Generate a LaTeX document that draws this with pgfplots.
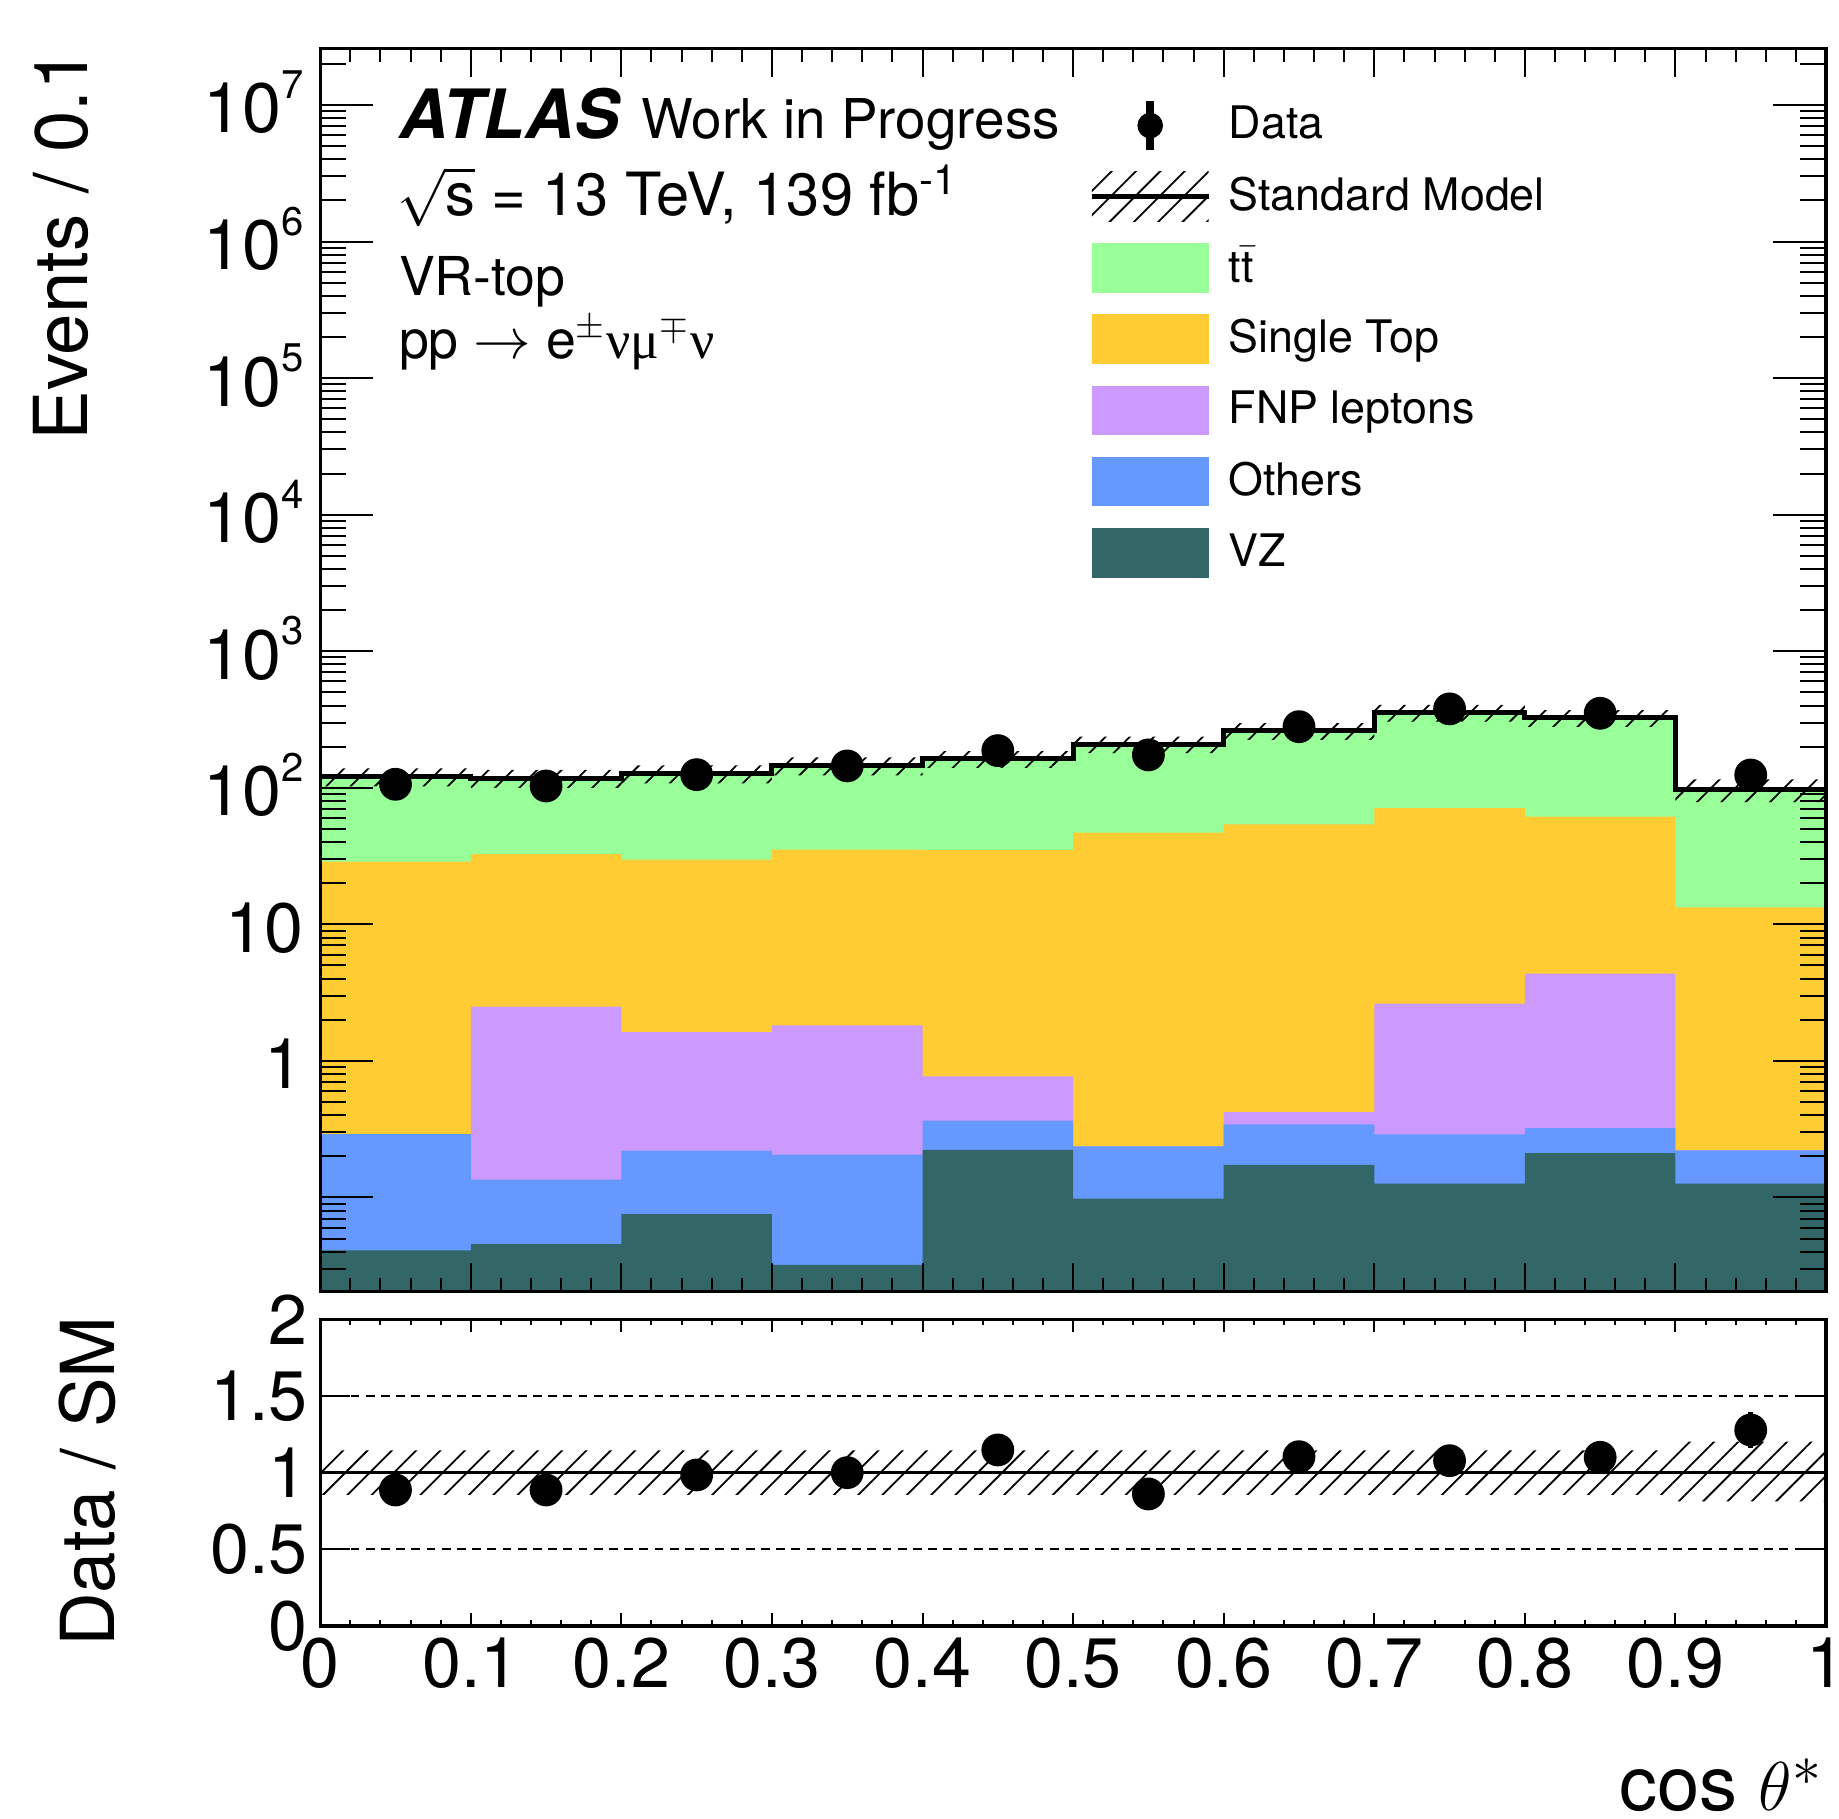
\documentclass[border=0pt]{standalone}
\usepackage{pgfplots}
\pgfplotsset{compat=1.18}
\usepackage{fontspec}
\setmainfont{TeX Gyre Heros}
\newfontfamily\symfont{Liberation Serif}
\usetikzlibrary{patterns.meta}
\definecolor{cTT}{RGB}{153,255,153}
\definecolor{cST}{RGB}{255,204,51}
\definecolor{cFNP}{RGB}{204,153,255}
\definecolor{cOth}{RGB}{102,153,255}
\definecolor{cVZ}{RGB}{51,102,102}
\newcommand{\fs}[1]{\fontsize{#1}{#1}\selectfont}
\newcommand{\pw}[1]{10\raisebox{0.49em}{\fs{10}#1}}
\tikzset{hatch/.style={pattern={Lines[angle=45,distance=4.3pt,line width=0.45pt]}, pattern color=black}}
\begin{document}
\begin{tikzpicture}
\path[use as bounding box] (0,0) rectangle (459.75pt,454.5pt);
% ---------------- main panel ----------------
\begin{axis}[name=main, at={(80.05pt,131.575pt)}, anchor=south west, scale only axis,
  width=376.45pt, height=310.85pt,
  xmin=0, xmax=1, ymin=0.0204, ymax=2.6e7, ymode=log,
  axis on top, axis line style={line width=0.85pt},
  xtick=\empty,
  ytick={0.1,1,10,100,1000,10000,100000,1000000,10000000},
  yticklabels={{},1,10,{\pw{2}},{\pw{3}},{\pw{4}},{\pw{5}},{\pw{6}},{\pw{7}}},
  minor ytick={0.03,0.04,0.05,0.06,0.07,0.08,0.09,0.2,0.3,0.4,0.5,0.6,0.7,0.8,0.9,2,3,4,5,6,7,8,9,20,30,40,50,60,70,80,90,200,300,400,500,600,700,800,900,2e3,3e3,4e3,5e3,6e3,7e3,8e3,9e3,2e4,3e4,4e4,5e4,6e4,7e4,8e4,9e4,2e5,3e5,4e5,5e5,6e5,7e5,8e5,9e5,2e6,3e6,4e6,5e6,6e6,7e6,8e6,9e6,2e7},
  major tick length=13.3pt, minor tick length=6.4pt, tick align=inside, ytick pos=both,
  tick style={line width=0.5pt, black},
  yticklabel style={font=\fs{17.5}, anchor=base east, inner sep=0pt, xshift=-4.0pt, yshift=-7pt},
  legend style={at={(axis description cs:0.5124,0.9578)}, anchor=north west, draw=none, fill=none,
    inner sep=0pt, outer sep=0pt, row sep=5.4pt, column sep=5.05pt, font=\fs{11.2},
    nodes={inner sep=0pt, outer sep=0pt}},
  legend cell align=left,
]
\addlegendimage{black, legend image code/.code={\path[draw=none] (0pt,-6.2pt) rectangle (29.2pt,6.2pt);
   \draw[overlay, black, line width=1.9pt] (14.6pt,-6.1pt) -- (14.6pt,6.1pt); \fill[overlay, black] (14.6pt,0pt) circle (3pt);}}
\addlegendimage{black, legend image code/.code={\fill[hatch, draw=none] (0pt,-6.2pt) rectangle (29.2pt,6.2pt);
   \draw[overlay, black, line width=1.25pt] (0pt,0pt) -- (29.2pt,0pt);}}
% stacked histograms (cumulative tops), drawn from the top layer down
\addplot[const plot, fill=cTT, draw=none, legend image code/.code={\fill[cTT, draw=none] (0pt,-6.2pt) rectangle (29.2pt,6.2pt);}]
 coordinates {(0,1e-3) (0,120.6) (0.1,117.4) (0.2,126.8) (0.3,145) (0.4,162.5) (0.5,208) (0.6,261) (0.7,355) (0.8,325) (0.9,96.9) (1,96.9) (1,1e-3)} -- cycle;
\addplot[const plot, fill=cST, draw=none, legend image code/.code={\fill[cST, draw=none] (0pt,-6.2pt) rectangle (29.2pt,6.2pt);}]
 coordinates {(0,1e-3) (0,28.8) (0.1,32.6) (0.2,29.8) (0.3,35.2) (0.4,34.9) (0.5,46.9) (0.6,54.0) (0.7,70.8) (0.8,61.4) (0.9,13.3) (1,13.3) (1,1e-3)} -- cycle;
\addplot[const plot, fill=cFNP, draw=none, legend image code/.code={\fill[cFNP, draw=none] (0pt,-6.2pt) rectangle (29.2pt,6.2pt);}]
 coordinates {(0,1e-3) (0,0.291) (0.1,2.50) (0.2,1.62) (0.3,1.82) (0.4,0.77) (0.5,0.236) (0.6,0.422) (0.7,2.62) (0.8,4.35) (0.9,0.221) (1,0.221) (1,1e-3)} -- cycle;
\addplot[const plot, fill=cOth, draw=none, legend image code/.code={\fill[cOth, draw=none] (0pt,-6.2pt) rectangle (29.2pt,6.2pt);}]
 coordinates {(0,1e-3) (0,0.291) (0.1,0.135) (0.2,0.220) (0.3,0.206) (0.4,0.365) (0.5,0.236) (0.6,0.343) (0.7,0.290) (0.8,0.322) (0.9,0.221) (1,0.221) (1,1e-3)} -- cycle;
\addplot[const plot, fill=cVZ, draw=none, legend image code/.code={\fill[cVZ, draw=none] (0pt,-6.2pt) rectangle (29.2pt,6.2pt);}]
 coordinates {(0,1e-3) (0,0.041) (0.1,0.0454) (0.2,0.0754) (0.3,0.032) (0.4,0.223) (0.5,0.098) (0.6,0.173) (0.7,0.126) (0.8,0.211) (0.9,0.126) (1,0.126) (1,1e-3)} -- cycle;
% SM uncertainty band
\addplot[forget plot, hatch, draw=none] coordinates {(0,102.5) (0.1,102.5) (0.1,99.8) (0.2,99.8) (0.2,107.8) (0.3,107.8) (0.3,123.3) (0.4,123.3) (0.4,139.8) (0.5,139.8) (0.5,178.9) (0.6,178.9) (0.6,224.5) (0.7,224.5) (0.7,305.3) (0.8,305.3) (0.8,279.5) (0.9,279.5) (0.9,78.5) (1,78.5) (1,115.3) (0.9,115.3) (0.9,370.5) (0.8,370.5) (0.8,404.7) (0.7,404.7) (0.7,297.5) (0.6,297.5) (0.6,237.1) (0.5,237.1) (0.5,185.3) (0.4,185.3) (0.4,166.8) (0.3,166.8) (0.3,145.8) (0.2,145.8) (0.2,135.0) (0.1,135.0) (0.1,138.7) (0,138.7)} -- cycle;
% SM total
\addplot[forget plot, const plot, black, line width=1.25pt] coordinates {(0,120.6) (0.1,117.4) (0.2,126.8) (0.3,145) (0.4,162.5) (0.5,208) (0.6,261) (0.7,355) (0.8,325) (0.9,96.9) (1,96.9)};
% data
\addplot[forget plot, black, only marks, mark=*, mark size=3.9pt,
  error bars/.cd, y dir=both, y explicit, error mark=none, error bar style={line width=1.2pt}]
 coordinates {(0.05,106) +- (0,10.3) (0.15,103) +- (0,10.1) (0.25,124.7) +- (0,11.2) (0.35,144.5) +- (0,12.0) (0.45,187) +- (0,13.7) (0.55,174) +- (0,13.2) (0.65,280) +- (0,16.7) (0.75,378) +- (0,19.4) (0.85,351) +- (0,18.7) (0.95,124) +- (0,11.1)};
\legend{Data, Standard Model, t$\bar{\mbox{t}}$, Single Top, FNP leptons, Others, VZ}
\end{axis}
% x ticks of main panel
\begin{axis}[at={(80.05pt,131.575pt)}, anchor=south west, scale only axis,
  width=376.45pt, height=310.85pt, xmin=0, xmax=1, ymin=0, ymax=1,
  axis line style={line width=0.85pt}, ytick=\empty,
  xtick={0,0.1,0.2,0.3,0.4,0.5,0.6,0.7,0.8,0.9,1}, xticklabels={}, minor x tick num=4,
  major tick length=7.25pt, minor tick length=3.5pt, tick align=inside, xtick pos=both,
  tick style={line width=0.5pt, black}]
\end{axis}
% ---------------- ratio panel ----------------
\begin{axis}[name=ratio, at={(80.05pt,48pt)}, anchor=south west, scale only axis,
  width=376.45pt, height=76.675pt,
  xmin=0, xmax=1, ymin=0, ymax=2,
  axis on top, axis line style={line width=0.85pt},
  xtick=\empty,
  ytick={0,0.5,1,1.5,2}, yticklabels={0,0.5,1,1.5,2},
  major tick length=7.5pt, tick align=inside, ytick pos=both,
  tick style={line width=0.5pt, black},
  yticklabel style={font=\fs{17.5}, anchor=east, inner sep=0pt, xshift=-3pt},
]
\addplot[hatch, draw=none] coordinates {(0,0.855) (0.9,0.855) (0.9,0.812) (1,0.812) (1,1.203) (0.9,1.203) (0.9,1.145) (0,1.145)} -- cycle;
\addplot[black, line width=0.5pt, dash pattern=on 2.2pt off 1.6pt] coordinates {(0,1.5) (1,1.5)};
\addplot[black, line width=0.5pt, dash pattern=on 2.2pt off 1.6pt] coordinates {(0,0.5) (1,0.5)};
\addplot[black, line width=0.65pt] coordinates {(0,1) (1,1)};
\addplot[black, only marks, mark=*, mark size=3.9pt,
  error bars/.cd, y dir=both, y explicit, error mark=none, error bar style={line width=1.2pt}]
 coordinates {(0.05,0.887) +- (0,0.085) (0.15,0.887) +- (0,0.086) (0.25,0.985) +- (0,0.088) (0.35,1.0) +- (0,0.083) (0.45,1.148) +- (0,0.084) (0.55,0.861) +- (0,0.063) (0.65,1.104) +- (0,0.064) (0.75,1.078) +- (0,0.055) (0.85,1.100) +- (0,0.057) (0.95,1.278) +- (0,0.115)};
\end{axis}
% x ticks of ratio panel
\begin{axis}[at={(80.05pt,48pt)}, anchor=south west, scale only axis,
  width=376.45pt, height=76.675pt, xmin=0, xmax=1, ymin=0, ymax=2,
  axis line style={line width=0.85pt}, ytick=\empty,
  xtick={0,0.1,0.2,0.3,0.4,0.5,0.6,0.7,0.8,0.9,1},
  xticklabels={0,0.1,0.2,0.3,0.4,0.5,0.6,0.7,0.8,0.9,1}, minor x tick num=4,
  major tick length=3.2pt, minor tick length=1.5pt, tick align=inside, xtick pos=both,
  xticklabel pos=lower,
  tick style={line width=0.5pt, black},
  xticklabel style={font=\fs{17.5}, anchor=north, inner sep=0pt, yshift=-2.7pt}]
\end{axis}
% axis titles
\node[rotate=90, anchor=base east, inner sep=0pt, font=\fs{18.6}] at ([xshift=-58.1pt]main.north west) {Events / 0.1};
\node[rotate=90, anchor=base east, inner sep=0pt, font=\fs{18.6}] at ([xshift=-51.4pt,yshift=1pt]ratio.north west) {Data / SM};
\node[anchor=base east, inner sep=0pt, font=\fs{19}] at ([xshift=-0.6pt,yshift=-46.2pt]ratio.south east) {cos $\theta^{*}$};
% labels
\node[anchor=base west, inner sep=0pt, font=\fs{17}\bfseries\itshape] at ([xshift=19.6pt,yshift=-22.6pt]main.north west) {ATLAS};
\node[anchor=base west, inner sep=0pt, font=\fs{13.7}] at ([xshift=80.2pt,yshift=-22.6pt]main.north west) {Work in Progress};
\node[anchor=base west, inner sep=0pt, font=\fs{14.9}] at ([xshift=19.0pt,yshift=-41.9pt]main.north west) {$\sqrt{\mbox{s}}$ = 13 TeV, 139 fb\textsuperscript{-1}};
\node[anchor=base west, inner sep=0pt, font=\fs{13.4}] at ([xshift=19.5pt,yshift=-61.9pt]main.north west) {VR-top};
\node[anchor=base west, inner sep=0pt, font=\fs{13.4}] at ([xshift=19.5pt,yshift=-77.5pt]main.north west) {pp $\rightarrow$ e$^{\pm}${\symfont νμ}$^{\mp}${\symfont ν}};
\end{tikzpicture}
\end{document}
